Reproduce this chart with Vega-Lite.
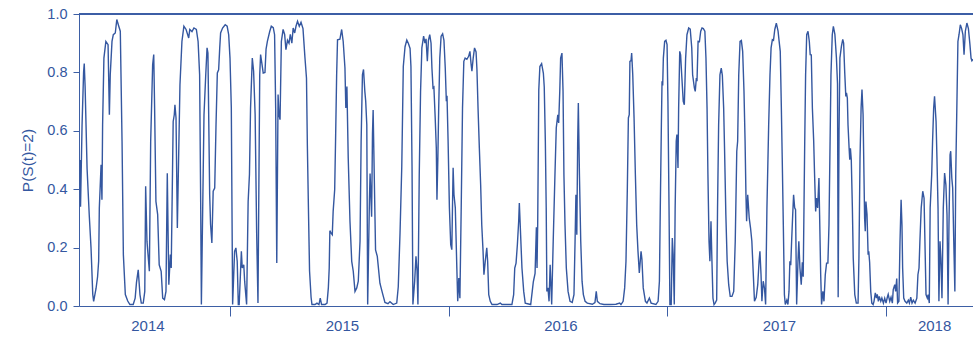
{
  "$schema": "https://vega.github.io/schema/vega-lite/v6.json",
  "width": 894,
  "height": 292,
  "autosize": {"type": "none"},
  "padding": {"left": 79, "top": 14, "right": 0, "bottom": 32},
  "background": "white",
  "config": {"view": {"stroke": null}, "font": "Liberation Sans"},
  "data": {"values": [
    {"year": 2014.312, "p": 0.50}, {"year": 2014.314, "p": 0.34}, {"year": 2014.321, "p": 0.62}, {"year": 2014.328, "p": 0.80},
    {"year": 2014.331, "p": 0.83}, {"year": 2014.335, "p": 0.75}, {"year": 2014.344, "p": 0.47}, {"year": 2014.354, "p": 0.31},
    {"year": 2014.362, "p": 0.20}, {"year": 2014.370, "p": 0.04}, {"year": 2014.374, "p": 0.016}, {"year": 2014.385, "p": 0.06},
    {"year": 2014.392, "p": 0.10}, {"year": 2014.397, "p": 0.154}, {"year": 2014.400, "p": 0.336}, {"year": 2014.408, "p": 0.484},
    {"year": 2014.412, "p": 0.364}, {"year": 2014.415, "p": 0.621}, {"year": 2014.421, "p": 0.849}, {"year": 2014.430, "p": 0.906},
    {"year": 2014.440, "p": 0.895}, {"year": 2014.446, "p": 0.655}, {"year": 2014.450, "p": 0.792}, {"year": 2014.458, "p": 0.906},
    {"year": 2014.464, "p": 0.929}, {"year": 2014.473, "p": 0.935}, {"year": 2014.480, "p": 0.981}, {"year": 2014.489, "p": 0.958},
    {"year": 2014.496, "p": 0.941}, {"year": 2014.504, "p": 0.564}, {"year": 2014.510, "p": 0.176}, {"year": 2014.519, "p": 0.039},
    {"year": 2014.530, "p": 0.017}, {"year": 2014.540, "p": 0.005}, {"year": 2014.555, "p": 0.005}, {"year": 2014.564, "p": 0.027},
    {"year": 2014.570, "p": 0.08}, {"year": 2014.578, "p": 0.124}, {"year": 2014.586, "p": 0.039}, {"year": 2014.592, "p": 0.01},
    {"year": 2014.601, "p": 0.01}, {"year": 2014.608, "p": 0.05}, {"year": 2014.612, "p": 0.41}, {"year": 2014.618, "p": 0.222},
    {"year": 2014.629, "p": 0.119}, {"year": 2014.635, "p": 0.564}, {"year": 2014.644, "p": 0.826}, {"year": 2014.649, "p": 0.861},
    {"year": 2014.653, "p": 0.678}, {"year": 2014.659, "p": 0.358}, {"year": 2014.667, "p": 0.313}, {"year": 2014.674, "p": 0.141},
    {"year": 2014.683, "p": 0.119}, {"year": 2014.690, "p": 0.027}, {"year": 2014.698, "p": 0.022}, {"year": 2014.705, "p": 0.05},
    {"year": 2014.711, "p": 0.455}, {"year": 2014.718, "p": 0.073}, {"year": 2014.725, "p": 0.176}, {"year": 2014.729, "p": 0.13},
    {"year": 2014.738, "p": 0.632}, {"year": 2014.743, "p": 0.655}, {"year": 2014.746, "p": 0.689}, {"year": 2014.751, "p": 0.644},
    {"year": 2014.757, "p": 0.267}, {"year": 2014.769, "p": 0.758}, {"year": 2014.778, "p": 0.906}, {"year": 2014.787, "p": 0.958},
    {"year": 2014.797, "p": 0.947}, {"year": 2014.809, "p": 0.918}, {"year": 2014.814, "p": 0.947}, {"year": 2014.824, "p": 0.94},
    {"year": 2014.833, "p": 0.952}, {"year": 2014.844, "p": 0.947}, {"year": 2014.852, "p": 0.906}, {"year": 2014.859, "p": 0.792},
    {"year": 2014.864, "p": 0.336}, {"year": 2014.867, "p": 0.005}, {"year": 2014.879, "p": 0.655}, {"year": 2014.887, "p": 0.792},
    {"year": 2014.893, "p": 0.884}, {"year": 2014.897, "p": 0.866}, {"year": 2014.905, "p": 0.381}, {"year": 2014.909, "p": 0.28},
    {"year": 2014.915, "p": 0.216}, {"year": 2014.921, "p": 0.393}, {"year": 2014.928, "p": 0.404}, {"year": 2014.934, "p": 0.621},
    {"year": 2014.940, "p": 0.798}, {"year": 2014.946, "p": 0.809}, {"year": 2014.951, "p": 0.884}, {"year": 2014.955, "p": 0.935},
    {"year": 2014.964, "p": 0.952}, {"year": 2014.976, "p": 0.963}, {"year": 2014.985, "p": 0.958}, {"year": 2014.992, "p": 0.929},
    {"year": 2014.998, "p": 0.849}, {"year": 2015.004, "p": 0.678}, {"year": 2015.010, "p": 0.005}, {"year": 2015.019, "p": 0.187},
    {"year": 2015.025, "p": 0.199}, {"year": 2015.031, "p": 0.153}, {"year": 2015.036, "p": 0.005}, {"year": 2015.040, "p": 0.005},
    {"year": 2015.050, "p": 0.187}, {"year": 2015.054, "p": 0.13}, {"year": 2015.061, "p": 0.141}, {"year": 2015.065, "p": 0.085},
    {"year": 2015.074, "p": 0.005}, {"year": 2015.081, "p": 0.358}, {"year": 2015.087, "p": 0.45}, {"year": 2015.092, "p": 0.678},
    {"year": 2015.100, "p": 0.849}, {"year": 2015.106, "p": 0.804}, {"year": 2015.113, "p": 0.655}, {"year": 2015.120, "p": 0.25},
    {"year": 2015.126, "p": 0.01}, {"year": 2015.134, "p": 0.792}, {"year": 2015.138, "p": 0.861}, {"year": 2015.144, "p": 0.83},
    {"year": 2015.150, "p": 0.798}, {"year": 2015.158, "p": 0.80}, {"year": 2015.163, "p": 0.88}, {"year": 2015.169, "p": 0.906},
    {"year": 2015.180, "p": 0.941}, {"year": 2015.187, "p": 0.958}, {"year": 2015.196, "p": 0.953}, {"year": 2015.202, "p": 0.929},
    {"year": 2015.207, "p": 0.678}, {"year": 2015.212, "p": 0.147}, {"year": 2015.218, "p": 0.724}, {"year": 2015.222, "p": 0.655},
    {"year": 2015.227, "p": 0.638}, {"year": 2015.233, "p": 0.906}, {"year": 2015.241, "p": 0.947}, {"year": 2015.248, "p": 0.93},
    {"year": 2015.254, "p": 0.878}, {"year": 2015.261, "p": 0.91}, {"year": 2015.268, "p": 0.9}, {"year": 2015.274, "p": 0.93},
    {"year": 2015.281, "p": 0.9}, {"year": 2015.287, "p": 0.952}, {"year": 2015.294, "p": 0.935}, {"year": 2015.300, "p": 0.958},
    {"year": 2015.307, "p": 0.975}, {"year": 2015.315, "p": 0.958}, {"year": 2015.323, "p": 0.972}, {"year": 2015.332, "p": 0.95},
    {"year": 2015.341, "p": 0.85}, {"year": 2015.348, "p": 0.78}, {"year": 2015.352, "p": 0.55}, {"year": 2015.357, "p": 0.33},
    {"year": 2015.362, "p": 0.12}, {"year": 2015.369, "p": 0.03}, {"year": 2015.373, "p": 0.005}, {"year": 2015.387, "p": 0.005},
    {"year": 2015.396, "p": 0.01}, {"year": 2015.405, "p": 0.005}, {"year": 2015.411, "p": 0.027}, {"year": 2015.417, "p": 0.005},
    {"year": 2015.433, "p": 0.005}, {"year": 2015.442, "p": 0.01}, {"year": 2015.448, "p": 0.062}, {"year": 2015.452, "p": 0.13},
    {"year": 2015.455, "p": 0.258}, {"year": 2015.460, "p": 0.25}, {"year": 2015.466, "p": 0.244}, {"year": 2015.470, "p": 0.324},
    {"year": 2015.477, "p": 0.398}, {"year": 2015.481, "p": 0.564}, {"year": 2015.486, "p": 0.792}, {"year": 2015.490, "p": 0.912},
    {"year": 2015.501, "p": 0.914}, {"year": 2015.509, "p": 0.947}, {"year": 2015.516, "p": 0.906}, {"year": 2015.524, "p": 0.815},
    {"year": 2015.528, "p": 0.678}, {"year": 2015.533, "p": 0.752}, {"year": 2015.539, "p": 0.507}, {"year": 2015.547, "p": 0.29},
    {"year": 2015.555, "p": 0.153}, {"year": 2015.562, "p": 0.119}, {"year": 2015.570, "p": 0.05}, {"year": 2015.578, "p": 0.062},
    {"year": 2015.585, "p": 0.085}, {"year": 2015.593, "p": 0.222}, {"year": 2015.598, "p": 0.564}, {"year": 2015.604, "p": 0.792},
    {"year": 2015.609, "p": 0.81}, {"year": 2015.615, "p": 0.735}, {"year": 2015.619, "p": 0.701}, {"year": 2015.624, "p": 0.62},
    {"year": 2015.628, "p": 0.005}, {"year": 2015.636, "p": 0.363}, {"year": 2015.639, "p": 0.454}, {"year": 2015.646, "p": 0.306},
    {"year": 2015.650, "p": 0.591}, {"year": 2015.653, "p": 0.671}, {"year": 2015.658, "p": 0.45}, {"year": 2015.664, "p": 0.192},
    {"year": 2015.672, "p": 0.17}, {"year": 2015.684, "p": 0.078}, {"year": 2015.696, "p": 0.043}, {"year": 2015.707, "p": 0.012},
    {"year": 2015.721, "p": 0.008}, {"year": 2015.730, "p": 0.015}, {"year": 2015.745, "p": 0.005}, {"year": 2015.761, "p": 0.01},
    {"year": 2015.768, "p": 0.066}, {"year": 2015.776, "p": 0.249}, {"year": 2015.784, "p": 0.477}, {"year": 2015.791, "p": 0.82},
    {"year": 2015.799, "p": 0.888}, {"year": 2015.807, "p": 0.911}, {"year": 2015.814, "p": 0.9}, {"year": 2015.822, "p": 0.882},
    {"year": 2015.826, "p": 0.82}, {"year": 2015.831, "p": 0.477}, {"year": 2015.835, "p": 0.005}, {"year": 2015.843, "p": 0.085},
    {"year": 2015.849, "p": 0.17}, {"year": 2015.854, "p": 0.12}, {"year": 2015.858, "p": 0.005}, {"year": 2015.864, "p": 0.45},
    {"year": 2015.870, "p": 0.735}, {"year": 2015.876, "p": 0.884}, {"year": 2015.884, "p": 0.924}, {"year": 2015.890, "p": 0.90},
    {"year": 2015.895, "p": 0.915}, {"year": 2015.901, "p": 0.838}, {"year": 2015.906, "p": 0.91}, {"year": 2015.912, "p": 0.929},
    {"year": 2015.918, "p": 0.90}, {"year": 2015.922, "p": 0.815}, {"year": 2015.927, "p": 0.747}, {"year": 2015.931, "p": 0.75},
    {"year": 2015.937, "p": 0.644}, {"year": 2015.942, "p": 0.541}, {"year": 2015.945, "p": 0.364}, {"year": 2015.949, "p": 0.5},
    {"year": 2015.953, "p": 0.678}, {"year": 2015.958, "p": 0.849}, {"year": 2015.964, "p": 0.924}, {"year": 2015.971, "p": 0.932},
    {"year": 2015.977, "p": 0.91}, {"year": 2015.983, "p": 0.815}, {"year": 2015.988, "p": 0.701}, {"year": 2015.991, "p": 0.72},
    {"year": 2015.996, "p": 0.564}, {"year": 2016.002, "p": 0.336}, {"year": 2016.008, "p": 0.21}, {"year": 2016.013, "p": 0.193},
    {"year": 2016.016, "p": 0.336}, {"year": 2016.019, "p": 0.473}, {"year": 2016.023, "p": 0.381}, {"year": 2016.029, "p": 0.336},
    {"year": 2016.036, "p": 0.13}, {"year": 2016.040, "p": 0.016}, {"year": 2016.045, "p": 0.096}, {"year": 2016.050, "p": 0.027},
    {"year": 2016.056, "p": 0.336}, {"year": 2016.062, "p": 0.678}, {"year": 2016.068, "p": 0.838}, {"year": 2016.074, "p": 0.849},
    {"year": 2016.082, "p": 0.845}, {"year": 2016.090, "p": 0.855}, {"year": 2016.096, "p": 0.872}, {"year": 2016.101, "p": 0.83},
    {"year": 2016.105, "p": 0.804}, {"year": 2016.111, "p": 0.85}, {"year": 2016.117, "p": 0.884}, {"year": 2016.124, "p": 0.87},
    {"year": 2016.128, "p": 0.81}, {"year": 2016.133, "p": 0.678}, {"year": 2016.139, "p": 0.541}, {"year": 2016.145, "p": 0.415},
    {"year": 2016.150, "p": 0.278}, {"year": 2016.156, "p": 0.187}, {"year": 2016.160, "p": 0.107}, {"year": 2016.166, "p": 0.153},
    {"year": 2016.173, "p": 0.199}, {"year": 2016.177, "p": 0.153}, {"year": 2016.182, "p": 0.039}, {"year": 2016.189, "p": 0.016},
    {"year": 2016.197, "p": 0.005}, {"year": 2016.220, "p": 0.005}, {"year": 2016.235, "p": 0.01}, {"year": 2016.242, "p": 0.005},
    {"year": 2016.288, "p": 0.005}, {"year": 2016.296, "p": 0.039}, {"year": 2016.301, "p": 0.13}, {"year": 2016.307, "p": 0.147},
    {"year": 2016.313, "p": 0.21}, {"year": 2016.319, "p": 0.29}, {"year": 2016.322, "p": 0.353}, {"year": 2016.326, "p": 0.278},
    {"year": 2016.334, "p": 0.13}, {"year": 2016.342, "p": 0.05}, {"year": 2016.349, "p": 0.01}, {"year": 2016.374, "p": 0.005},
    {"year": 2016.381, "p": 0.05}, {"year": 2016.386, "p": 0.083}, {"year": 2016.394, "p": 0.112}, {"year": 2016.400, "p": 0.27},
    {"year": 2016.403, "p": 0.13}, {"year": 2016.406, "p": 0.28}, {"year": 2016.411, "p": 0.74}, {"year": 2016.416, "p": 0.82},
    {"year": 2016.424, "p": 0.83}, {"year": 2016.432, "p": 0.797}, {"year": 2016.436, "p": 0.75}, {"year": 2016.441, "p": 0.564},
    {"year": 2016.445, "p": 0.336}, {"year": 2016.448, "p": 0.05}, {"year": 2016.453, "p": 0.062}, {"year": 2016.458, "p": 0.016},
    {"year": 2016.463, "p": 0.141}, {"year": 2016.470, "p": 0.005}, {"year": 2016.477, "p": 0.222}, {"year": 2016.485, "p": 0.45},
    {"year": 2016.491, "p": 0.61}, {"year": 2016.498, "p": 0.655}, {"year": 2016.502, "p": 0.627}, {"year": 2016.507, "p": 0.735},
    {"year": 2016.511, "p": 0.849}, {"year": 2016.517, "p": 0.866}, {"year": 2016.522, "p": 0.735}, {"year": 2016.526, "p": 0.45},
    {"year": 2016.531, "p": 0.278}, {"year": 2016.537, "p": 0.13}, {"year": 2016.545, "p": 0.05}, {"year": 2016.554, "p": 0.016},
    {"year": 2016.564, "p": 0.012}, {"year": 2016.572, "p": 0.039}, {"year": 2016.577, "p": 0.222}, {"year": 2016.581, "p": 0.381},
    {"year": 2016.585, "p": 0.244}, {"year": 2016.589, "p": 0.564}, {"year": 2016.592, "p": 0.695}, {"year": 2016.597, "p": 0.45},
    {"year": 2016.603, "p": 0.222}, {"year": 2016.609, "p": 0.085}, {"year": 2016.615, "p": 0.039}, {"year": 2016.623, "p": 0.016},
    {"year": 2016.633, "p": 0.01}, {"year": 2016.656, "p": 0.006}, {"year": 2016.668, "p": 0.012}, {"year": 2016.674, "p": 0.05},
    {"year": 2016.679, "p": 0.016}, {"year": 2016.691, "p": 0.008}, {"year": 2016.709, "p": 0.005}, {"year": 2016.740, "p": 0.005},
    {"year": 2016.764, "p": 0.006}, {"year": 2016.781, "p": 0.01}, {"year": 2016.787, "p": 0.005}, {"year": 2016.797, "p": 0.016},
    {"year": 2016.804, "p": 0.062}, {"year": 2016.810, "p": 0.153}, {"year": 2016.816, "p": 0.393}, {"year": 2016.821, "p": 0.644},
    {"year": 2016.825, "p": 0.655}, {"year": 2016.828, "p": 0.838}, {"year": 2016.833, "p": 0.84}, {"year": 2016.836, "p": 0.866},
    {"year": 2016.841, "p": 0.792}, {"year": 2016.847, "p": 0.644}, {"year": 2016.853, "p": 0.45}, {"year": 2016.859, "p": 0.278},
    {"year": 2016.865, "p": 0.187}, {"year": 2016.871, "p": 0.113}, {"year": 2016.879, "p": 0.187}, {"year": 2016.883, "p": 0.16},
    {"year": 2016.889, "p": 0.062}, {"year": 2016.899, "p": 0.016}, {"year": 2016.906, "p": 0.01}, {"year": 2016.917, "p": 0.027},
    {"year": 2016.925, "p": 0.01}, {"year": 2016.947, "p": 0.005}, {"year": 2016.957, "p": 0.016}, {"year": 2016.963, "p": 0.085},
    {"year": 2016.967, "p": 0.336}, {"year": 2016.972, "p": 0.621}, {"year": 2016.975, "p": 0.77}, {"year": 2016.978, "p": 0.755},
    {"year": 2016.981, "p": 0.849}, {"year": 2016.987, "p": 0.906}, {"year": 2016.993, "p": 0.91}, {"year": 2016.998, "p": 0.895},
    {"year": 2017.002, "p": 0.701}, {"year": 2017.007, "p": 0.336}, {"year": 2017.011, "p": 0.005}, {"year": 2017.017, "p": 0.005},
    {"year": 2017.022, "p": 0.233}, {"year": 2017.026, "p": 0.176}, {"year": 2017.031, "p": 0.005}, {"year": 2017.035, "p": 0.336},
    {"year": 2017.040, "p": 0.564}, {"year": 2017.043, "p": 0.587}, {"year": 2017.048, "p": 0.473}, {"year": 2017.051, "p": 0.678},
    {"year": 2017.056, "p": 0.872}, {"year": 2017.060, "p": 0.86}, {"year": 2017.065, "p": 0.792}, {"year": 2017.072, "p": 0.701},
    {"year": 2017.077, "p": 0.689}, {"year": 2017.083, "p": 0.849}, {"year": 2017.089, "p": 0.929}, {"year": 2017.097, "p": 0.952},
    {"year": 2017.104, "p": 0.948}, {"year": 2017.111, "p": 0.884}, {"year": 2017.115, "p": 0.792}, {"year": 2017.123, "p": 0.747},
    {"year": 2017.127, "p": 0.735}, {"year": 2017.132, "p": 0.781}, {"year": 2017.135, "p": 0.77}, {"year": 2017.140, "p": 0.906},
    {"year": 2017.146, "p": 0.905}, {"year": 2017.152, "p": 0.941}, {"year": 2017.158, "p": 0.952}, {"year": 2017.164, "p": 0.95},
    {"year": 2017.171, "p": 0.941}, {"year": 2017.176, "p": 0.849}, {"year": 2017.181, "p": 0.678}, {"year": 2017.185, "p": 0.45},
    {"year": 2017.190, "p": 0.222}, {"year": 2017.194, "p": 0.153}, {"year": 2017.199, "p": 0.29}, {"year": 2017.203, "p": 0.164},
    {"year": 2017.208, "p": 0.027}, {"year": 2017.213, "p": 0.005}, {"year": 2017.218, "p": 0.01}, {"year": 2017.225, "p": 0.02},
    {"year": 2017.229, "p": 0.336}, {"year": 2017.234, "p": 0.621}, {"year": 2017.240, "p": 0.792}, {"year": 2017.246, "p": 0.815},
    {"year": 2017.251, "p": 0.79}, {"year": 2017.257, "p": 0.678}, {"year": 2017.261, "p": 0.541}, {"year": 2017.267, "p": 0.313},
    {"year": 2017.273, "p": 0.153}, {"year": 2017.280, "p": 0.073}, {"year": 2017.287, "p": 0.033}, {"year": 2017.295, "p": 0.033},
    {"year": 2017.303, "p": 0.05}, {"year": 2017.310, "p": 0.222}, {"year": 2017.317, "p": 0.53}, {"year": 2017.321, "p": 0.564},
    {"year": 2017.326, "p": 0.792}, {"year": 2017.332, "p": 0.906}, {"year": 2017.338, "p": 0.909}, {"year": 2017.344, "p": 0.872},
    {"year": 2017.350, "p": 0.735}, {"year": 2017.355, "p": 0.564}, {"year": 2017.359, "p": 0.381}, {"year": 2017.362, "p": 0.29},
    {"year": 2017.367, "p": 0.381}, {"year": 2017.374, "p": 0.301}, {"year": 2017.380, "p": 0.267}, {"year": 2017.386, "p": 0.222},
    {"year": 2017.392, "p": 0.12}, {"year": 2017.398, "p": 0.016}, {"year": 2017.406, "p": 0.03}, {"year": 2017.413, "p": 0.073},
    {"year": 2017.419, "p": 0.153}, {"year": 2017.423, "p": 0.187}, {"year": 2017.428, "p": 0.107}, {"year": 2017.432, "p": 0.016},
    {"year": 2017.438, "p": 0.085}, {"year": 2017.444, "p": 0.06}, {"year": 2017.449, "p": 0.005}, {"year": 2017.455, "p": 0.336},
    {"year": 2017.463, "p": 0.621}, {"year": 2017.469, "p": 0.792}, {"year": 2017.474, "p": 0.884}, {"year": 2017.480, "p": 0.912},
    {"year": 2017.485, "p": 0.91}, {"year": 2017.491, "p": 0.947}, {"year": 2017.498, "p": 0.969}, {"year": 2017.506, "p": 0.941},
    {"year": 2017.510, "p": 0.912}, {"year": 2017.516, "p": 0.872}, {"year": 2017.521, "p": 0.678}, {"year": 2017.525, "p": 0.507},
    {"year": 2017.530, "p": 0.278}, {"year": 2017.535, "p": 0.039}, {"year": 2017.539, "p": 0.005}, {"year": 2017.546, "p": 0.02},
    {"year": 2017.551, "p": 0.005}, {"year": 2017.556, "p": 0.05}, {"year": 2017.560, "p": 0.153}, {"year": 2017.564, "p": 0.14},
    {"year": 2017.568, "p": 0.222}, {"year": 2017.573, "p": 0.313}, {"year": 2017.577, "p": 0.381}, {"year": 2017.582, "p": 0.336},
    {"year": 2017.586, "p": 0.33}, {"year": 2017.591, "p": 0.005}, {"year": 2017.597, "p": 0.153}, {"year": 2017.601, "p": 0.222},
    {"year": 2017.606, "p": 0.13}, {"year": 2017.612, "p": 0.073}, {"year": 2017.617, "p": 0.15}, {"year": 2017.621, "p": 0.1},
    {"year": 2017.628, "p": 0.564}, {"year": 2017.632, "p": 0.792}, {"year": 2017.637, "p": 0.929}, {"year": 2017.643, "p": 0.941},
    {"year": 2017.649, "p": 0.906}, {"year": 2017.653, "p": 0.861}, {"year": 2017.658, "p": 0.86}, {"year": 2017.663, "p": 0.678},
    {"year": 2017.669, "p": 0.564}, {"year": 2017.673, "p": 0.45}, {"year": 2017.678, "p": 0.324}, {"year": 2017.682, "p": 0.37},
    {"year": 2017.687, "p": 0.336}, {"year": 2017.693, "p": 0.438}, {"year": 2017.696, "p": 0.313}, {"year": 2017.701, "p": 0.107},
    {"year": 2017.705, "p": 0.005}, {"year": 2017.711, "p": 0.05}, {"year": 2017.716, "p": 0.016}, {"year": 2017.722, "p": 0.107},
    {"year": 2017.728, "p": 0.147}, {"year": 2017.734, "p": 0.147}, {"year": 2017.739, "p": 0.278}, {"year": 2017.744, "p": 0.564},
    {"year": 2017.748, "p": 0.792}, {"year": 2017.754, "p": 0.929}, {"year": 2017.759, "p": 0.958}, {"year": 2017.766, "p": 0.93},
    {"year": 2017.773, "p": 0.85}, {"year": 2017.778, "p": 0.76}, {"year": 2017.781, "p": 0.03}, {"year": 2017.785, "p": 0.6},
    {"year": 2017.789, "p": 0.85}, {"year": 2017.796, "p": 0.89}, {"year": 2017.802, "p": 0.913}, {"year": 2017.806, "p": 0.9},
    {"year": 2017.811, "p": 0.8}, {"year": 2017.816, "p": 0.718}, {"year": 2017.819, "p": 0.73}, {"year": 2017.823, "p": 0.712},
    {"year": 2017.826, "p": 0.621}, {"year": 2017.831, "p": 0.541}, {"year": 2017.834, "p": 0.501}, {"year": 2017.837, "p": 0.54},
    {"year": 2017.841, "p": 0.501}, {"year": 2017.846, "p": 0.336}, {"year": 2017.850, "p": 0.164}, {"year": 2017.857, "p": 0.039},
    {"year": 2017.864, "p": 0.01}, {"year": 2017.872, "p": 0.01}, {"year": 2017.876, "p": 0.164}, {"year": 2017.881, "p": 0.507},
    {"year": 2017.886, "p": 0.68}, {"year": 2017.890, "p": 0.741}, {"year": 2017.895, "p": 0.655}, {"year": 2017.899, "p": 0.45},
    {"year": 2017.902, "p": 0.301}, {"year": 2017.905, "p": 0.256}, {"year": 2017.908, "p": 0.358}, {"year": 2017.913, "p": 0.313},
    {"year": 2017.918, "p": 0.176}, {"year": 2017.921, "p": 0.187}, {"year": 2017.925, "p": 0.15}, {"year": 2017.930, "p": 0.05},
    {"year": 2017.935, "p": 0.01}, {"year": 2017.941, "p": 0.005}, {"year": 2017.945, "p": 0.016}, {"year": 2017.951, "p": 0.045},
    {"year": 2017.956, "p": 0.027}, {"year": 2017.960, "p": 0.04}, {"year": 2017.965, "p": 0.016}, {"year": 2017.969, "p": 0.033},
    {"year": 2017.976, "p": 0.016}, {"year": 2017.981, "p": 0.027}, {"year": 2017.988, "p": 0.01}, {"year": 2017.994, "p": 0.027},
    {"year": 2018.000, "p": 0.01}, {"year": 2018.006, "p": 0.03}, {"year": 2018.010, "p": 0.04}, {"year": 2018.017, "p": 0.016},
    {"year": 2018.023, "p": 0.03}, {"year": 2018.029, "p": 0.01}, {"year": 2018.033, "p": 0.056}, {"year": 2018.040, "p": 0.073},
    {"year": 2018.044, "p": 0.05}, {"year": 2018.049, "p": 0.094}, {"year": 2018.053, "p": 0.01}, {"year": 2018.059, "p": 0.016},
    {"year": 2018.064, "p": 0.222}, {"year": 2018.069, "p": 0.364}, {"year": 2018.073, "p": 0.276}, {"year": 2018.076, "p": 0.13},
    {"year": 2018.081, "p": 0.027}, {"year": 2018.087, "p": 0.016}, {"year": 2018.095, "p": 0.01}, {"year": 2018.102, "p": 0.02},
    {"year": 2018.107, "p": 0.01}, {"year": 2018.113, "p": 0.03}, {"year": 2018.119, "p": 0.01}, {"year": 2018.125, "p": 0.02},
    {"year": 2018.133, "p": 0.01}, {"year": 2018.141, "p": 0.027}, {"year": 2018.146, "p": 0.107}, {"year": 2018.151, "p": 0.13},
    {"year": 2018.155, "p": 0.222}, {"year": 2018.161, "p": 0.336}, {"year": 2018.168, "p": 0.393}, {"year": 2018.174, "p": 0.37},
    {"year": 2018.178, "p": 0.222}, {"year": 2018.183, "p": 0.039}, {"year": 2018.189, "p": 0.027}, {"year": 2018.193, "p": 0.039},
    {"year": 2018.198, "p": 0.01}, {"year": 2018.202, "p": 0.336}, {"year": 2018.209, "p": 0.45}, {"year": 2018.213, "p": 0.564},
    {"year": 2018.218, "p": 0.678}, {"year": 2018.222, "p": 0.718}, {"year": 2018.229, "p": 0.632}, {"year": 2018.233, "p": 0.507},
    {"year": 2018.238, "p": 0.336}, {"year": 2018.242, "p": 0.016}, {"year": 2018.247, "p": 0.222}, {"year": 2018.251, "p": 0.164},
    {"year": 2018.256, "p": 0.027}, {"year": 2018.262, "p": 0.336}, {"year": 2018.268, "p": 0.455}, {"year": 2018.274, "p": 0.415},
    {"year": 2018.279, "p": 0.313}, {"year": 2018.284, "p": 0.005}, {"year": 2018.288, "p": 0.278}, {"year": 2018.293, "p": 0.518},
    {"year": 2018.296, "p": 0.53}, {"year": 2018.301, "p": 0.438}, {"year": 2018.305, "p": 0.404}, {"year": 2018.310, "p": 0.222},
    {"year": 2018.315, "p": 0.05}, {"year": 2018.319, "p": 0.45}, {"year": 2018.324, "p": 0.678}, {"year": 2018.329, "p": 0.906},
    {"year": 2018.334, "p": 0.929}, {"year": 2018.340, "p": 0.963}, {"year": 2018.346, "p": 0.95}, {"year": 2018.352, "p": 0.929},
    {"year": 2018.357, "p": 0.861}, {"year": 2018.363, "p": 0.941}, {"year": 2018.370, "p": 0.969}, {"year": 2018.377, "p": 0.95},
    {"year": 2018.384, "p": 0.895}, {"year": 2018.389, "p": 0.849}, {"year": 2018.393, "p": 0.84}, {"year": 2018.398, "p": 0.845}
  ]},
  "layer": [
    {
      "mark": {"type": "line", "color": "#3457a0", "strokeWidth": 1.4, "clip": true},
      "encoding": {
        "x": {
          "field": "year",
          "type": "quantitative",
          "scale": {"domain": [2014.307, 2018.398], "nice": false, "zero": false},
          "axis": {
            "title": null,
            "grid": false,
            "values": [2014.62, 2015, 2015.51, 2016, 2016.51, 2017, 2017.51, 2018, 2018.22],
            "labelExpr": "datum.value % 1 === 0 ? '' : '' + floor(datum.value)",
            "tickOpacity": {"condition": {"test": "datum.value % 1 === 0", "value": 1}, "value": 0},
            "tickSize": 10,
            "tickWidth": 1,
            "labelPadding": 2,
            "labelFlush": false,
            "labelOverlap": false,
            "labelBound": false,
            "labelFontSize": 15,
            "labelColor": "#3457a0",
            "tickColor": "#3d5fa5",
            "domainColor": "#3d5fa5",
            "domainWidth": 1
          }
        },
        "y": {
          "field": "p",
          "type": "quantitative",
          "scale": {"domain": [0, 1], "nice": false},
          "axis": {
            "title": "P(S(t)=2)",
            "grid": false,
            "values": [0, 0.2, 0.4, 0.6, 0.8, 1],
            "format": ".1f",
            "tickSize": 6,
            "labelPadding": 6,
            "labelFlush": false,
            "labelFontSize": 14.5,
            "labelColor": "#3457a0",
            "tickColor": "#3d5fa5",
            "domainColor": "#3d5fa5",
            "titleFontSize": 15.5,
            "titleFontWeight": "normal",
            "titleColor": "#3457a0",
            "titlePadding": 11
          }
        }
      }
    },
    {
      "mark": {"type": "rule", "color": "#3d5fa5", "strokeWidth": 1},
      "encoding": {"y": {"datum": 1}}
    }
  ]
}
